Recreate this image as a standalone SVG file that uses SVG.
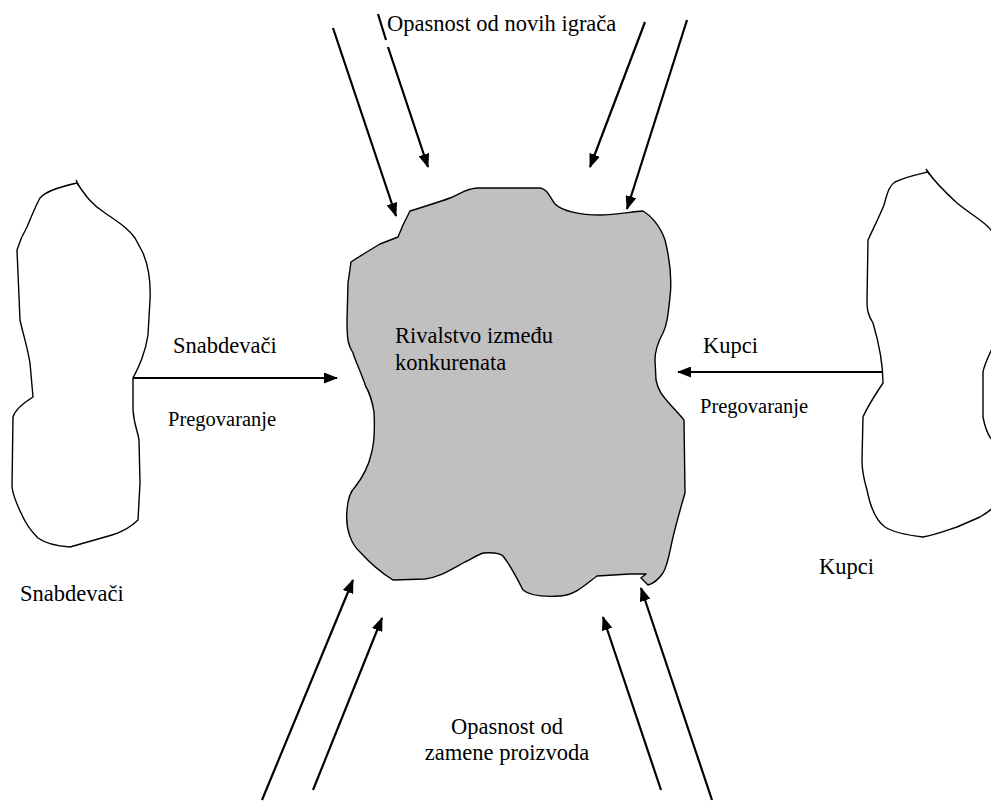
<svg xmlns="http://www.w3.org/2000/svg" width="991" height="811" viewBox="0 0 991 811">
  <style>
    .bg { fill: #ffffff; }
    .blob { fill: #ffffff; stroke: #000000; stroke-width: 1.4; stroke-linejoin: round; }
    .core { fill: #c0c0c0; stroke: #000000; stroke-width: 1.4; stroke-linejoin: round; }
    .arrow { fill: none; stroke: #000000; stroke-width: 2.2; marker-end: url(#head); }
    .lbl { font-family: "Liberation Serif", "Times New Roman", serif; font-size: 22.5px; fill: #000000; }
    .small { font-size: 20.5px; }
  </style>
  <defs>
    <marker id="head" markerUnits="userSpaceOnUse" markerWidth="14" markerHeight="11" refX="13" refY="5.5" orient="auto">
      <path d="M0,0 L14,5.5 L0,11 Z" fill="#000000"/>
    </marker>
  </defs>

  <rect class="bg" x="0" y="0" width="991" height="811"/>

  <!-- supplier blob (left) -->
  <g id="snabdevaci">
    <path class="blob" d="M77,183 C85,195 92,205 105,213 C118,222 128,228 135,238 L143,253 C148,265 151,280 150,300 L148,335 C145,355 138,368 133,378 L133,410 C134,425 138,432 139,440 L140,483 L138,520 C130,528 122,532 112,535 L70,547 C55,546 45,543 38,538 C30,530 25,522 22,515 C17,505 13,495 12,487 L13,417 C15,410 25,402 33,397 L30,363 C27,345 22,330 20,320 L17,250 C20,240 24,232 27,227 C32,215 36,205 40,198 C45,192 55,188 77,183 Z"/>
    <path d="M76,180 L79,186" stroke="#000" stroke-width="1.4" fill="none"/>
    <text class="lbl" x="20" y="601">Snabdevači</text>
  </g>

  <!-- buyer blob (right, runs past the edge) -->
  <g id="kupci">
    <path class="blob" d="M928,172 C935,182 945,192 957,203 C968,212 978,218 985,224 C995,232 1000,245 1002,260 L1000,330 C995,345 985,360 983,372 L983,417 C985,428 988,435 992,440 L1000,500 C995,508 985,514 980,517 L957,527 C945,531 935,535 923,537 C905,535 893,532 885,527 C875,520 870,505 867,490 C864,480 862,470 862,460 L863,417 C866,410 875,395 883,383 C883,365 878,340 873,323 C868,315 867,310 867,300 L868,240 C875,225 880,215 884,205 C888,190 890,185 895,182 C905,177 915,175 928,172 Z"/>
    <path d="M926,169 L930,175" stroke="#000" stroke-width="1.4" fill="none"/>
    <text class="lbl" x="819" y="574">Kupci</text>
  </g>

  <!-- central rivalry blob -->
  <g id="rivalstvo">
    <path class="core" d="M410,211 C425,206 440,202 450,198 C460,194 465,189 477,188 L540,188 C548,189 550,198 555,204 C562,211 580,215 600,215 C615,215 630,212 643,211 C650,215 660,225 665,240 C670,260 672,280 670,297 C668,315 667,325 663,333 C658,342 655,350 655,360 L656,380 C658,390 662,395 668,402 C675,410 680,415 684,420 L685,493 C680,510 676,525 673,537 C670,550 668,565 663,573 C658,580 652,584 648,585 L641,578 L646,574 L630,574 L597,576 C585,585 575,595 560,596 C545,597 530,596 523,590 C518,580 510,565 503,556 C500,553 495,552 483,553 C475,556 470,560 465,562 C450,570 440,577 425,579 L393,580 C380,572 370,563 360,552 C352,545 345,530 347,510 C348,495 352,490 355,487 C362,478 368,468 371,455 C374,445 375,430 374,412 C372,400 368,390 366,387 C360,370 355,360 353,353 C348,345 347,340 347,320 L348,283 L351,262 C360,256 370,250 380,244 L398,237 L403,225 Z"/>
    <text class="lbl" x="395" y="343">Rivalstvo između</text>
    <text class="lbl" x="395" y="369.5">konkurenata</text>
  </g>

  <!-- forces acting on the centre -->
  <g id="connectors">
    <path class="arrow" d="M333,28 L396,216"/>
    <path class="arrow" d="M378,14 L386,40 M388,47 L428,167"/>
    <path class="arrow" d="M645,22 L590,167"/>
    <path class="arrow" d="M687,20 L627,209"/>
    <path class="arrow" d="M133,378 L337,378"/>
    <path class="arrow" d="M883,372 L678,372"/>
    <path class="arrow" d="M262,800 L353,580"/>
    <path class="arrow" d="M313,790 L382,618"/>
    <path class="arrow" d="M661,790 L603,617"/>
    <path class="arrow" d="M712,800 L641,588"/>
  </g>

  <!-- force labels -->
  <g id="labels">
    <text class="lbl" x="387" y="31">Opasnost od novih igrača</text>
    <text class="lbl" x="173" y="353">Snabdevači</text>
    <text class="lbl small" x="168" y="426">Pregovaranje</text>
    <text class="lbl" x="703" y="353">Kupci</text>
    <text class="lbl small" x="700" y="413">Pregovaranje</text>
    <text class="lbl" x="507" y="734" text-anchor="middle">Opasnost od</text>
    <text class="lbl" x="507" y="760" text-anchor="middle">zamene proizvoda</text>
  </g>
</svg>
